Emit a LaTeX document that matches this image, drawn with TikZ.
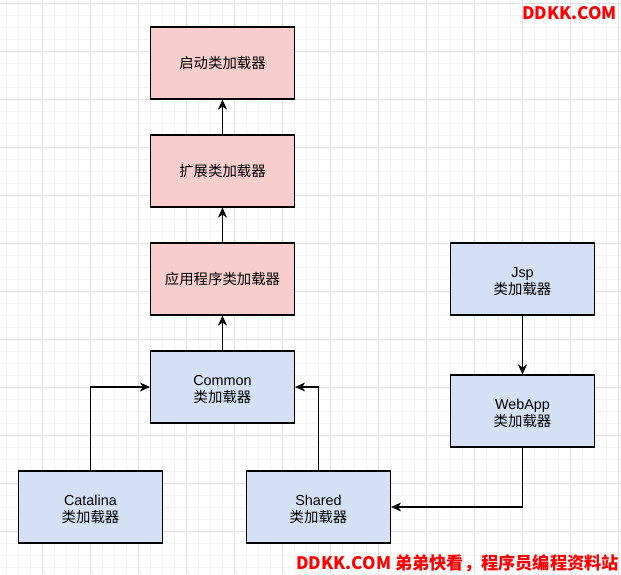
\documentclass[tikz,border=0pt]{standalone}
\usepackage{fontspec}
\setmainfont{Liberation Sans}
\newfontfamily\cjk{Noto Sans CJK SC}
\usetikzlibrary{arrows.meta}
\definecolor{pinkfill}{HTML}{F8CECC}
\definecolor{bluefill}{HTML}{D4E1F5}
\definecolor{gridmajor}{HTML}{E0E0E0}
\definecolor{gridminor}{HTML}{F4F4F4}
\definecolor{wmred}{HTML}{FF0000}
\newcommand\twolines[2]{\raisebox{-3.5pt}[\height][\depth]{\begin{tabular}{@{}c@{}}#1\\{\cjk #2}\end{tabular}}}
\tikzset{
  box/.style={draw=black, line width=1.2pt, minimum width=144pt, minimum height=72pt,
    inner sep=0pt, align=center, font=\fontsize{14.4}{17}\selectfont},
  pinkbox/.style={box, fill=pinkfill},
  bluebox/.style={box, fill=bluefill},
  conn/.style={line width=1.2pt, -{Stealth[length=10pt,width=9pt,inset=3pt]}},
  wm/.style={text=wmred, font=\cjk\bfseries\fontsize{17.2}{20}\selectfont, inner sep=0pt}
}
\begin{document}
\begin{tikzpicture}[x=1pt,y=-1pt]
\useasboundingbox (0,0) rectangle (621,574);
\fill[white] (0,0) rectangle (621,574);
% grid
\foreach \i in {0,...,51} {
  \draw[gridminor, line width=0.8pt] ({6.5+12*\i},0) -- ({6.5+12*\i},574);
}
\foreach \i in {0,...,47} {
  \draw[gridminor, line width=0.8pt] (0,{3.5+12*\i}) -- (621,{3.5+12*\i});
}
\foreach \i in {0,...,12} {
  \draw[gridmajor, line width=1pt] ({42.5+48*\i},0) -- ({42.5+48*\i},574);
}
\foreach \i in {0,...,11} {
  \draw[gridmajor, line width=1pt] (0,{3.5+48*\i}) -- (621,{3.5+48*\i});
}
% nodes
\node[pinkbox] (boot) at (222.5,63) {\cjk 启动类加载器};
\node[pinkbox] (ext) at (222.5,171) {\cjk 扩展类加载器};
\node[pinkbox] (app) at (222.5,279) {\cjk 应用程序类加载器};
\node[bluebox] (common) at (222.5,387) {\twolines{Common}{类加载器}};
\node[bluebox] (catalina) at (90.5,507) {\twolines{Catalina}{类加载器}};
\node[bluebox] (shared) at (318.5,507) {\twolines{Shared}{类加载器}};
\node[bluebox] (jsp) at (522.5,279) {\twolines{Jsp}{类加载器}};
\node[bluebox] (webapp) at (522.5,411) {\twolines{WebApp}{类加载器}};
% connectors
\draw[conn] (ext.north) -- (boot.south);
\draw[conn] (app.north) -- (ext.south);
\draw[conn] (common.north) -- (app.south);
\draw[conn] (catalina.north) |- (common.west);
\draw[conn] (shared.north) |- (common.east);
\draw[conn] (jsp.south) -- (webapp.north);
\draw[conn] (webapp.south) |- (shared.east);
% watermarks
\node[wm, anchor=east] (wm1) at (617,13) {DDKK.COM};
\node[wm, anchor=east] (wm2) at (619,563) {DDKK.COM 弟弟快看，程序员编程资料站};
\end{tikzpicture}
\end{document}
